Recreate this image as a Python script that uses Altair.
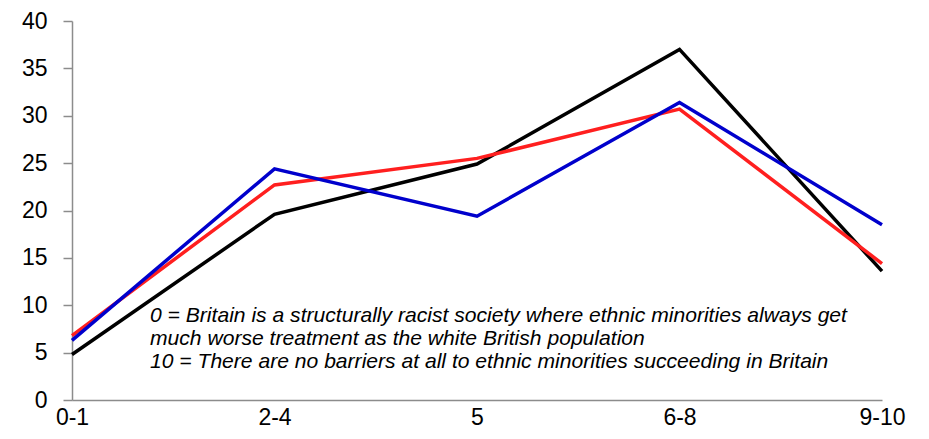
import altair as alt
import pandas as pd

categories = ["0-1", "2-4", "5", "6-8", "9-10"]
series_names = ["Black", "Red", "Blue"]
black_values = [4.8, 19.6, 24.9, 37.0, 13.6]
red_values = [6.8, 22.7, 25.5, 30.7, 14.4]
blue_values = [6.3, 24.4, 19.4, 31.4, 18.5]
colors = ["#000000", "#FF1F1F", "#0000CC"]
note_lines = [
    "0 = Britain is a structurally racist society where ethnic minorities always get",
    "much worse treatment as the white British population",
    "10 = There are no barriers at all to ethnic minorities succeeding in Britain",
]

rows = []
for name, vals in zip(series_names, [black_values, red_values, blue_values]):
    for i, (c, v) in enumerate(zip(categories, vals)):
        rows.append({"series": name, "cat": c, "value": v, "order": i})
df = pd.DataFrame(rows)

FONT = "Liberation Sans"
AXIS_COLOR = "#8C8C8C"

lines = alt.Chart(df).mark_line(strokeWidth=3.5, strokeJoin="miter").encode(
    x=alt.X("cat:O", sort=categories, scale=alt.Scale(type="point", padding=0),
            axis=alt.Axis(title=None, labelAngle=0, ticks=False, labelPadding=6,
                          labelFontSize=23, labelFont=FONT, labelColor="#000000",
                          domainColor=AXIS_COLOR, domainWidth=1.5, grid=False)),
    y=alt.Y("value:Q", scale=alt.Scale(domain=[0, 40], nice=False),
            axis=alt.Axis(title=None, values=[0, 5, 10, 15, 20, 25, 30, 35, 40],
                          tickSize=9, tickColor=AXIS_COLOR, tickWidth=1.5,
                          labelPadding=16, labelFontSize=23, labelFont=FONT,
                          labelColor="#000000", domainColor=AXIS_COLOR,
                          domainWidth=1.5, grid=False)),
    color=alt.Color("series:N", scale=alt.Scale(domain=series_names, range=colors), legend=None),
    order="order:Q",
    detail="series:N",
)

note = alt.Chart(pd.DataFrame({"t": ["\n".join(note_lines)]})).mark_text(
    align="left", baseline="alphabetic", fontStyle="italic", fontSize=21.1,
    font=FONT, color="#000000", lineBreak="\n", lineHeight=23,
).encode(text="t:N", x=alt.value(78), y=alt.value(301))

chart = alt.layer(lines, note).properties(
    width=810, height=379,
    autosize=alt.AutoSizeParams(type="none"),
    padding={"left": 64, "top": 13, "right": 39, "bottom": 31},
).configure_view(stroke=None)

chart.save("out.html", embed_options={"renderer": "svg", "actions": False})
